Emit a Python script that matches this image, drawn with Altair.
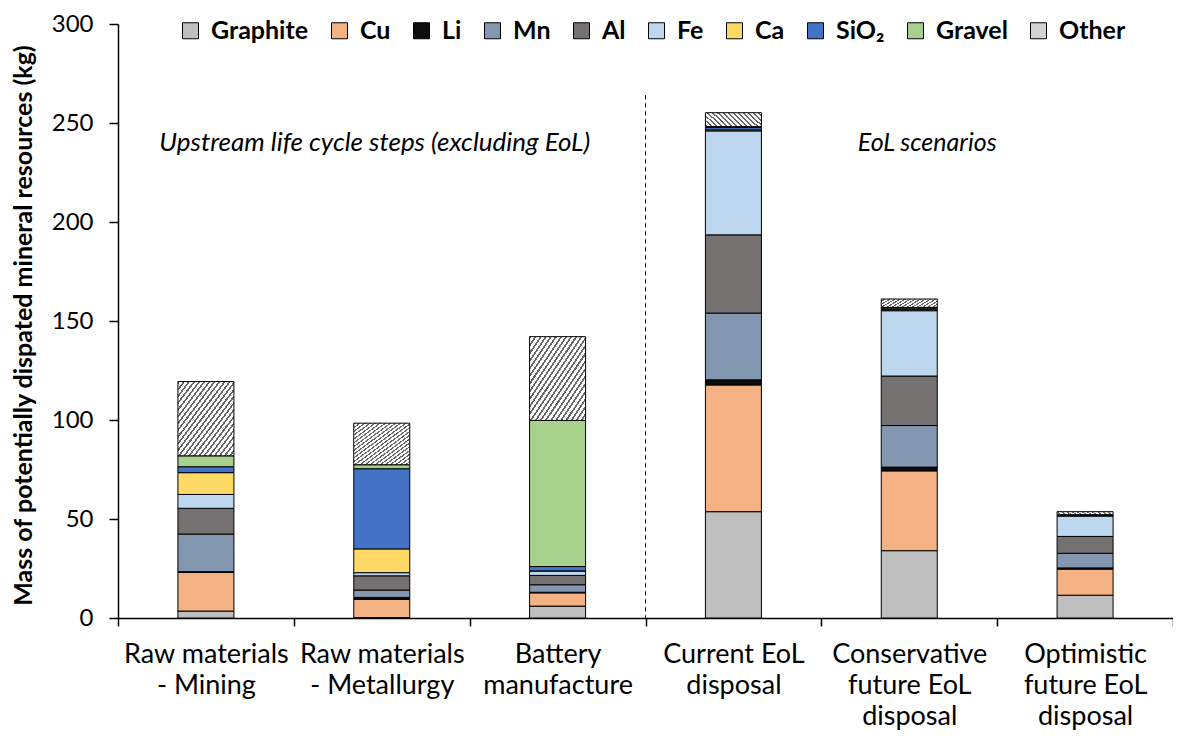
import altair as alt
import pandas as pd

categories = [
    "Raw materials|- Mining",
    "Raw materials|- Metallurgy",
    "Battery|manufacture",
    "Current EoL|disposal",
    "Conservative|future EoL|disposal",
    "Optimistic|future EoL|disposal",
]
series = ["Graphite", "Cu", "Li", "Mn", "Al", "Fe", "Ca", "SiO₂", "Gravel", "Other"]
colors = ["#bfbfbf", "#f4b183", "#0d0d0d", "#8497b0", "#767171", "#bdd7ee",
          "#ffd966", "#4472c4", "#a9d18e", "#d2d2d2"]

graphite = [3.5, 0.2, 6.0, 53.7, 34.0, 11.5]
cu = [19.5, 9.2, 6.7, 64.0, 40.3, 13.2]
li = [0.4, 1.0, 0.3, 2.6, 1.9, 0.6]
mn = [19.0, 3.7, 3.8, 33.7, 21.0, 7.4]
al = [13.0, 7.2, 4.7, 39.5, 25.0, 8.5]
fe = [7.0, 1.6, 2.3, 52.5, 33.0, 10.3]
ca = [11.0, 12.0, 0.0, 0.5, 0.5, 0.2]
sio2 = [3.0, 40.5, 2.2, 1.2, 0.8, 0.3]
gravel = [5.5, 2.0, 73.8, 0.5, 0.4, 0.2]
other = [37.5, 21.0, 42.3, 7.0, 4.2, 1.5]

values = [graphite, cu, li, mn, al, fe, ca, sio2, gravel, other]

rows = []
for si, (s, vals) in enumerate(zip(series, values)):
    for c, v in zip(categories, vals):
        rows.append({"category": c, "series": s, "value": v, "order": si})
df = pd.DataFrame(rows)

annot_cats = ["Raw materials|- Metallurgy", "Conservative|future EoL|disposal"]
annot_texts = ["Upstream life cycle steps (excluding EoL)", "EoL scenarios"]
annot_y = [240, 240]
divider = pd.DataFrame({"category": ["Current EoL|disposal"], "y": [264], "y2": [0]})

# diagonal hatch imitation via hard-stop gradient
N = 22
stops = []
for i in range(N):
    a = i / N
    b = (i + 0.4) / N
    c = (i + 1) / N
    stops += [
        {"color": "#6a6a6a", "offset": a},
        {"color": "#6a6a6a", "offset": b},
        {"color": "#ffffff", "offset": b},
        {"color": "#ffffff", "offset": c},
    ]
hatch = {"gradient": "linear", "x1": 0, "y1": 0, "x2": 1, "y2": 1, "stops": stops}

xscale = alt.Scale(domain=categories, paddingInner=0, paddingOuter=0)

bars = alt.Chart(df).mark_bar(size=56, stroke="black", strokeWidth=1).encode(
    x=alt.X("category:N", scale=xscale, sort=categories,
            axis=alt.Axis(title=None, labelAngle=0, labelExpr="split(datum.label, '|')",
                          tickBand="extent", tickSize=8, labelPadding=15,
                          labelLineHeight=31, labelFontSize=27, labelColor="black",
                          domainColor="black", tickColor="black", domainWidth=1.5, tickWidth=1.5)),
    y=alt.Y("value:Q", stack="zero",
            scale=alt.Scale(domain=[0, 300], nice=False),
            axis=alt.Axis(values=[0, 50, 100, 150, 200, 250, 300], grid=False,
                          title="Mass of potentially dispated mineral resources (kg)",
                          titleFontSize=25, titleFontWeight="bold", titleColor="black",
                          titleX=-95, titleY=301, titleAngle=270, titleAlign="center",
                          titleBaseline="middle",
                          labelFontSize=24, labelColor="black", labelPadding=16, tickSize=9,
                          domainColor="black", tickColor="black", domainWidth=1.5, tickWidth=1.5)),
    fill=alt.condition(
        alt.datum.series == "Other",
        alt.value(hatch),
        alt.Fill("series:N", scale=alt.Scale(domain=series, range=colors),
                 legend=alt.Legend(title=None, orient="none", direction="horizontal",
                                   columns=10, legendX=60, legendY=-6,
                                   symbolType="square", symbolSize=256,
                                   symbolStrokeColor="black", symbolStrokeWidth=1,
                                   symbolOpacity=1,
                                   labelFontSize=25, labelFontWeight="bold", labelColor="black",
                                   labelOffset=8, columnPadding=18, padding=0)),
    ),
    order=alt.Order("order:Q", sort="ascending"),
)

def annotation(i, size, dx):
    d = pd.DataFrame({"category": [annot_cats[i]], "text": [annot_texts[i]], "y": [annot_y[i]]})
    return alt.Chart(d).mark_text(
        fontSize=size, fontStyle="italic", color="black", baseline="middle", align="center", dx=dx
    ).encode(x=alt.X("category:N", scale=xscale, sort=categories), y="y:Q", text="text:N")

text_left = annotation(0, 26, -7)
text_right = annotation(1, 25, 18)

rule = alt.Chart(divider).mark_rule(color="black", strokeDash=[4, 4], strokeWidth=1).encode(
    x=alt.X("category:N", scale=xscale, sort=categories, bandPosition=0),
    y="y:Q",
    y2="y2:Q",
)

chart = alt.layer(bars, rule, text_left, text_right).properties(
    width=1055, height=594,
    autosize=alt.AutoSizeParams(type="none"),
    padding={"left": 110, "top": 16, "right": 0, "bottom": 116},
).configure(font="Lato").configure_view(stroke=None)

chart.save("out.html", embed_options={"renderer": "svg", "actions": False})
